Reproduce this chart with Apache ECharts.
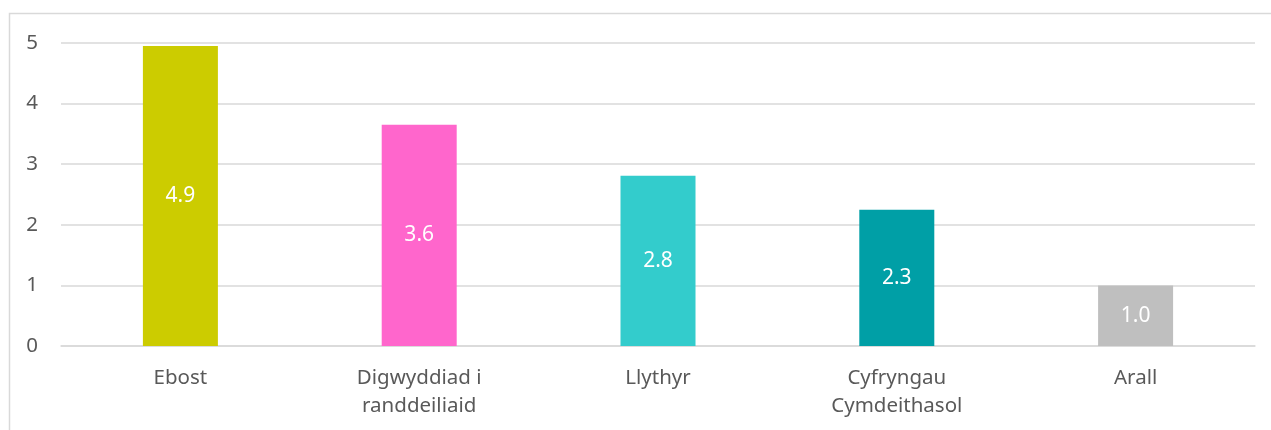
<!DOCTYPE html>
<html>
<head>
<meta charset="utf-8">
<script src="https://cdn.jsdelivr.net/npm/echarts@6/dist/echarts.min.js"></script>
<style>
html,body{margin:0;padding:0;background:#fff;}
#chart{width:1271px;height:430px;}
</style>
</head>
<body>
<div id="chart"></div>
<script>
const categories = ['Ebost', 'Digwyddiad i\nranddeiliaid', 'Llythyr', 'Cyfryngau\nCymdeithasol', 'Arall'];
const values = [4.95, 3.65, 2.81, 2.25, 1.0];
const valueLabels = ['4.9', '3.6', '2.8', '2.3', '1.0'];
const colors = ['#CCCC00', '#FF66CC', '#33CCCC', '#009FA6', '#BFBFBF'];
const yTicks = [0, 1, 2, 3, 4, 5];

const chart = echarts.init(document.getElementById('chart'));
const font = '"Noto Sans", "Open Sans", sans-serif';
chart.setOption({
  animation: false,
  graphic: [{
    type: 'rect',
    shape: { x: 9.5, y: 13.5, width: 1400, height: 600 },
    style: { fill: 'none', stroke: '#D9D9D9', lineWidth: 1.5 },
    silent: true
  }],
  grid: { left: 61, right: 16, top: 43, bottom: 84 },
  xAxis: {
    type: 'category',
    data: categories,
    axisLine: { show: true, lineStyle: { color: '#D9D9D9', width: 1.5 } },
    axisTick: { show: false },
    axisLabel: {
      color: '#595959', fontSize: 20.5, fontFamily: font,
      lineHeight: 28, margin: 18, interval: 0
    }
  },
  yAxis: {
    type: 'value',
    min: yTicks[0], max: yTicks[yTicks.length - 1], interval: 1,
    axisLine: { show: false },
    axisTick: { show: false },
    splitLine: { lineStyle: { color: '#D9D9D9', width: 1.5 } },
    axisLabel: { color: '#595959', fontSize: 20.5, fontFamily: font, margin: 23 }
  },
  series: [{
    type: 'bar',
    barWidth: 75,
    data: values.map((v, i) => ({ value: v, itemStyle: { color: colors[i] } })),
    label: {
      show: true, position: 'inside', color: '#FFFFFF',
      fontSize: 21, fontFamily: font,
      formatter: p => valueLabels[p.dataIndex]
    }
  }]
});
</script>
</body>
</html>
